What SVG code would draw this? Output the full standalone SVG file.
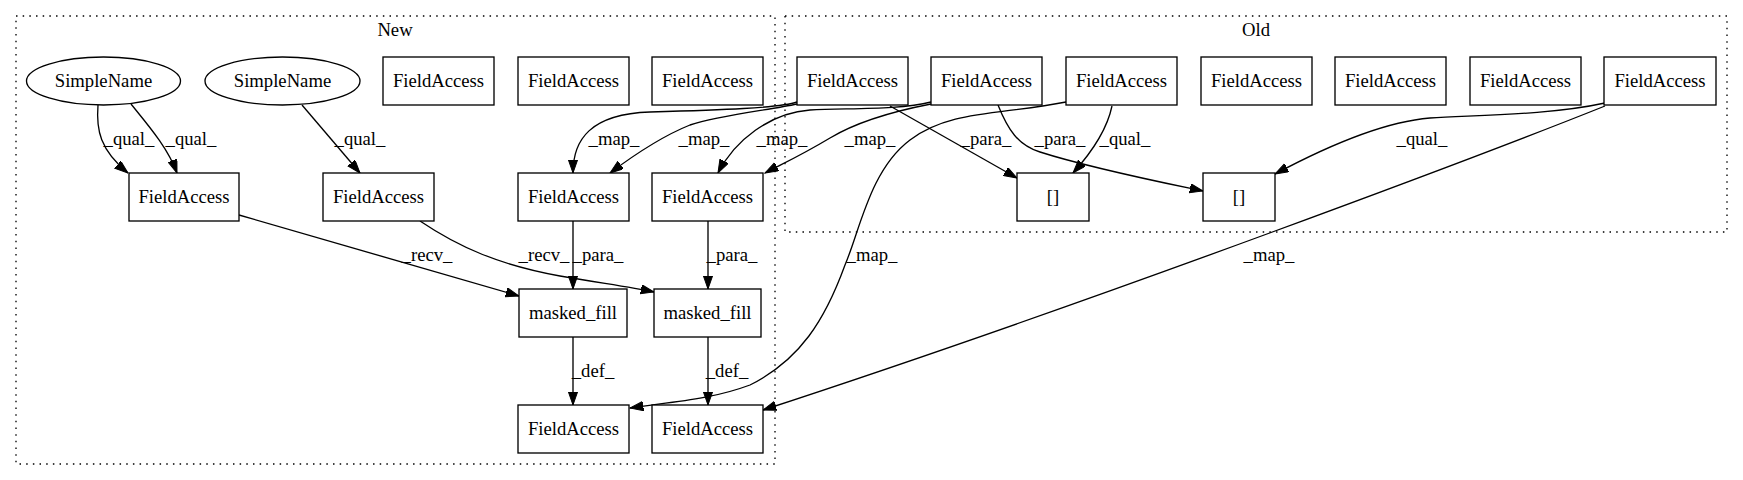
<svg xmlns="http://www.w3.org/2000/svg" width="1743" height="480" viewBox="0 0 1743 480" font-family="'Liberation Serif', 'Times New Roman', serif" font-size="18.67">
<style>
  text { font-family: 'Liberation Serif', 'Times New Roman', serif; font-size: 18.67px; fill: #000; text-anchor: middle; }
  .cluster { fill: none; stroke: #000; stroke-width: 1.33; stroke-dasharray: 1.5 5.17; }
  .node rect, .node ellipse { fill: #fff; stroke: #000; stroke-width: 1.33; }
  .edge { fill: none; stroke: #000; stroke-width: 1.33; marker-end: url(#arrow); }
</style>
<defs>
  <marker id="arrow" markerUnits="userSpaceOnUse" markerWidth="14" markerHeight="10" refX="13.3" refY="4.67" orient="auto" viewBox="0 0 14 10">
    <path d="M0,0 L13.3,4.67 L0,9.33 Z" fill="#000" stroke="#000" stroke-width="1"/>
  </marker>
</defs>
<rect width="1743" height="480" fill="#fff"/>

<g id="cluster-new">
  <rect class="cluster" x="16" y="16" width="759" height="448"/>
  <text x="395" y="36">New</text>
</g>
<g id="cluster-old">
  <rect class="cluster" x="785" y="16" width="942" height="216"/>
  <text x="1256" y="36">Old</text>
</g>

<g id="connectors">
  <path class="edge" d="M98,105 C96,130 100,150 128,173"/>
  <text x="129" y="145">_qual_</text>
  <path class="edge" d="M131,104 C148,125 168,148 177,173"/>
  <text x="191" y="145">_qual_</text>
  <path class="edge" d="M302,105 L360,173"/>
  <text x="360" y="145">_qual_</text>

  <path class="edge" d="M239,215 L519,296"/>
  <text x="427" y="261">_recv_</text>
  <path class="edge" d="M420,221 C460,248 500,265 560,276 C600,283 630,287 654,292"/>
  <text x="544" y="261">_recv_</text>
  <path class="edge" d="M573,221 L573,289"/>
  <text x="598" y="261">_para_</text>
  <path class="edge" d="M708,221 L708,289"/>
  <text x="732" y="261">_para_</text>
  <path class="edge" d="M573,337 L573,405"/>
  <text x="593" y="377">_def_</text>
  <path class="edge" d="M708,337 L708,405"/>
  <text x="727" y="377">_def_</text>

  <path class="edge" d="M797,102 C780,108 720,110 650,112 C590,114 573,140 573,173"/>
  <text x="614" y="145">_map_</text>
  <path class="edge" d="M797,104 C770,110 720,115 690,125 C660,137 630,158 610,173"/>
  <text x="704" y="145">_map_</text>
  <path class="edge" d="M931,102 C900,110 850,108 810,110 C770,113 735,140 718,173"/>
  <text x="782" y="145">_map_</text>
  <path class="edge" d="M931,104 C900,110 860,120 830,138 C800,156 780,165 765,173"/>
  <text x="870" y="145">_map_</text>

  <path class="edge" d="M890,106 L1017,178"/>
  <text x="986" y="145">_para_</text>
  <path class="edge" d="M998,105 C1008,130 1018,145 1040,152 C1090,168 1160,182 1203,191"/>
  <text x="1060" y="145">_para_</text>
  <path class="edge" d="M1112,106 C1107,130 1092,152 1073,173"/>
  <text x="1125" y="145">_qual_</text>
  <path class="edge" d="M1066,102 C1000,115 950,110 910,140 C870,170 860,230 845,265 C825,320 800,360 750,385 C710,400 670,402 630,408"/>
  <text x="872" y="261">_map_</text>
  <path class="edge" d="M1605,103 C1550,115 1480,115 1430,118 C1380,122 1320,150 1275,174"/>
  <text x="1422" y="145">_qual_</text>
  <path class="edge" d="M1605,106 C1500,148 1100,300 763,410"/>
  <text x="1269" y="261">_map_</text>
</g>

<g id="n-sn1" class="node"><ellipse cx="103.5" cy="81" rx="77" ry="24"/><text x="103.5" y="87">SimpleName</text></g>
<g id="n-sn2" class="node"><ellipse cx="282.5" cy="81" rx="77.5" ry="24"/><text x="282.5" y="87">SimpleName</text></g>
<g id="n-fa1" class="node"><rect x="383" y="57" width="111" height="48"/><text x="438.5" y="87">FieldAccess</text></g>
<g id="n-fa2" class="node"><rect x="518" y="57" width="111" height="48"/><text x="573.5" y="87">FieldAccess</text></g>
<g id="n-fa3" class="node"><rect x="652" y="57" width="111" height="48"/><text x="707.5" y="87">FieldAccess</text></g>
<g id="n-fa4" class="node"><rect x="129" y="173" width="110" height="48"/><text x="184" y="203">FieldAccess</text></g>
<g id="n-fa5" class="node"><rect x="323" y="173" width="111" height="48"/><text x="378.5" y="203">FieldAccess</text></g>
<g id="n-fa6" class="node"><rect x="518" y="173" width="111" height="48"/><text x="573.5" y="203">FieldAccess</text></g>
<g id="n-fa7" class="node"><rect x="652" y="173" width="111" height="48"/><text x="707.5" y="203">FieldAccess</text></g>
<g id="n-mf1" class="node"><rect x="519" y="289" width="108" height="48"/><text x="573" y="319">masked_fill</text></g>
<g id="n-mf2" class="node"><rect x="654" y="289" width="107" height="48"/><text x="707.5" y="319">masked_fill</text></g>
<g id="n-fa8" class="node"><rect x="518" y="405" width="111" height="48"/><text x="573.5" y="435">FieldAccess</text></g>
<g id="n-fa9" class="node"><rect x="652" y="405" width="111" height="48"/><text x="707.5" y="435">FieldAccess</text></g>

<g id="o-fa1" class="node"><rect x="797" y="57" width="111" height="48"/><text x="852.5" y="87">FieldAccess</text></g>
<g id="o-fa2" class="node"><rect x="931" y="57" width="111" height="48"/><text x="986.5" y="87">FieldAccess</text></g>
<g id="o-fa3" class="node"><rect x="1066" y="57" width="111" height="48"/><text x="1121.5" y="87">FieldAccess</text></g>
<g id="o-fa4" class="node"><rect x="1201" y="57" width="111" height="48"/><text x="1256.5" y="87">FieldAccess</text></g>
<g id="o-fa5" class="node"><rect x="1335" y="57" width="111" height="48"/><text x="1390.5" y="87">FieldAccess</text></g>
<g id="o-fa6" class="node"><rect x="1470" y="57" width="111" height="48"/><text x="1525.5" y="87">FieldAccess</text></g>
<g id="o-fa7" class="node"><rect x="1604" y="57" width="112" height="48"/><text x="1660" y="87">FieldAccess</text></g>
<g id="o-idx1" class="node"><rect x="1017" y="173" width="72" height="48"/><text x="1053" y="203">[]</text></g>
<g id="o-idx2" class="node"><rect x="1203" y="173" width="72" height="48"/><text x="1239" y="203">[]</text></g>
</svg>
